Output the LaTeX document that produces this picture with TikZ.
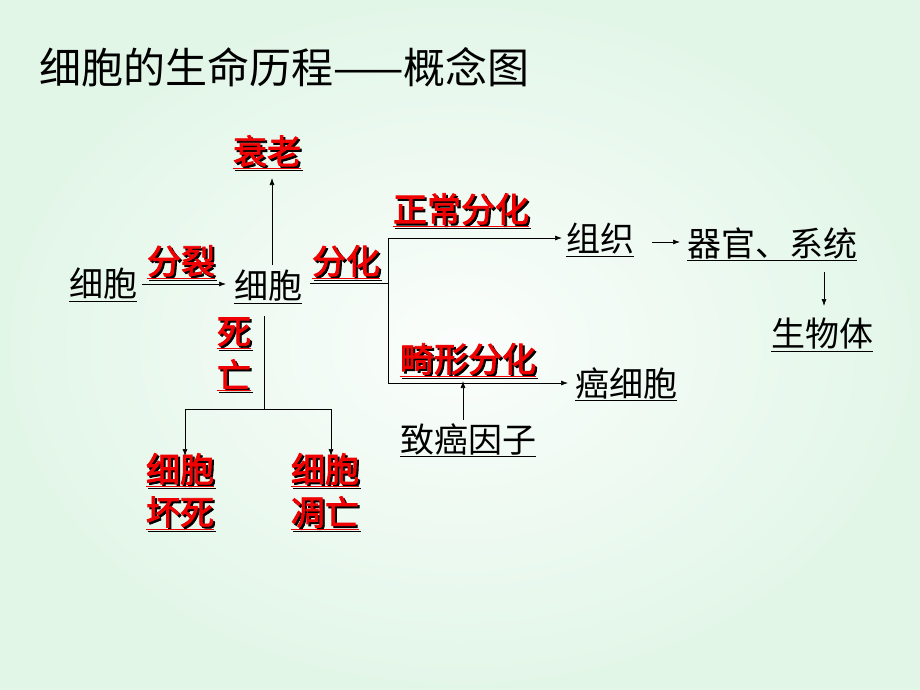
\documentclass[tikz,border=0pt]{standalone}
\usepackage{fontspec}
\setmainfont{Noto Sans CJK SC}[AutoFakeBold=2.5]
\usetikzlibrary{arrows.meta}
\definecolor{bgg}{HTML}{E2F6E8}
\definecolor{rd}{HTML}{F00000}
\begin{document}
\begin{tikzpicture}[x=1pt,y=-1pt,
  bk/.style={font=\fontsize{34}{36}\selectfont, inner sep=1pt},
  rdl/.style={font=\fontsize{34}{36}\selectfont\bfseries, text=rd, inner sep=1pt},
  sh/.style={font=\fontsize{34}{36}\selectfont\bfseries, text=black, inner sep=1pt},
  ln/.style={line width=0.7pt},
  ar/.style={ln,-{Latex[length=7pt,width=5pt]}}]
\shade[inner color=white!85!bgg, outer color=bgg] (0,0) rectangle (920,690);
\useasboundingbox (0,0) rectangle (920,690);
\node[bk,anchor=west,font=\fontsize{42}{44}\selectfont] (title) at (38,67) {细胞的生命历程——概念图};
% red labels with shadow
\foreach \n/\x/\y/\t in {s1/267/152/衰老, s2/181/262/分裂, s3/346/262/分化, s4/461/210/正常分化, s5/468/360/畸形分化, s6/234/333/死, s7/234/375/亡, s8/180/470/细胞, s9/180/513/坏死, s10/325/470/细胞, s11/325/513/凋亡}{
  \node[sh] (\n b) at (\x+2,\y+2) {\underline{\t}};
  \node[rdl] (\n) at (\x,\y) {\underline{\t}};
}
\node[bk] (c1) at (103,285) {\underline{细胞}};
\node[bk] (c2) at (268,287) {\underline{细胞}};
\node[bk] (zz) at (600,240) {\underline{组织}};
\node[bk] (qg) at (772,244) {\underline{器官、系统}};
\node[bk] (swt) at (822,335) {\underline{生物体}};
\node[bk] (axb) at (626,384) {\underline{癌细胞}};
\node[bk] (zayz) at (468,440) {\underline{致癌因子}};
\coordinate (j1) at (388,283);
\coordinate (j2) at (388,238);
\coordinate (j3) at (388,383);
\coordinate (d0) at (264,409);
\coordinate (dl) at (185,409);
\coordinate (dr) at (331,409);
\draw[ar] (272,265) -- (272,178);
\draw[ar] (142,284) -- (226,284);
\draw[ln] (310,283) -- (j1);
\draw[ln] (j2) -- (j3);
\draw[ar] (j2) -- (562,238);
\draw[ar] (j3) -- (568,383);
\draw[ar] (652,242) -- (680,242);
\draw[ar] (824,272) -- (824,306);
\draw[ar] (463,420) -- (463,381);
\draw[ln] (264,316) -- (d0);
\draw[ln] (dl) -- (dr);
\draw[ar] (dl) -- (185,456);
\draw[ar] (dr) -- (331,456);
\end{tikzpicture}
\end{document}
